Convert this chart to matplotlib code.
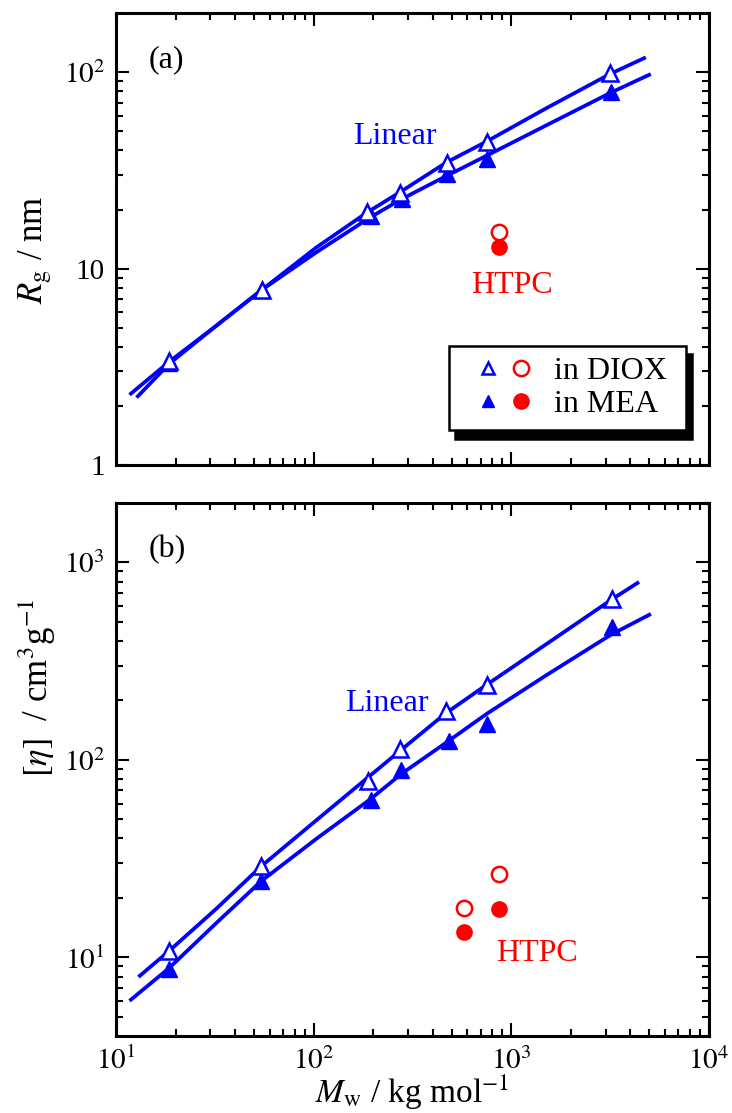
import matplotlib
matplotlib.use('Agg')
import matplotlib.pyplot as plt
from matplotlib.legend_handler import HandlerTuple

plt.rcParams['font.family'] = ['Liberation Serif', 'DejaVu Serif']
plt.rcParams['mathtext.fontset'] = 'stix'

# ---- datos panel (a): Rg ----
m_rg = [18.6, 54.7, 186, 275, 471, 750, 3160]
rg_diox = [3.38, 7.8, 19.4, 24.4, 34.7, 44.2, 99.0]
m_rg_mea = [18.6, 54.7, 196, 279, 475, 750, 3210]
rg_mea = [3.30, 7.8, 18.5, 22.5, 30.5, 36.3, 79.5]

m_htpc_rg = [871]
rg_htpc_diox = [15.3]
rg_htpc_mea = [12.9]

# curvas teoricas
m_fit_rg_diox = [11.9, 18.6, 32, 54.7, 103, 186, 275, 471, 750, 1500, 3160, 4700]
fit_rg_diox = [2.31, 3.36, 5.1, 7.8, 12.8, 19.3, 24.6, 34.8, 44.4, 65.5, 98.0, 118]
m_fit_rg_mea = [12.9, 18.6, 32, 54.7, 103, 196, 279, 453, 750, 1500, 3210, 4980]
fit_rg_mea = [2.24, 3.28, 5.1, 7.8, 12.1, 18.4, 22.6, 29.1, 37.6, 53.6, 79.0, 97.0]

# ---- datos panel (b): [eta] ----
m_eta = [18.5, 54.1, 188, 273, 465, 750, 3230]
eta_diox = [10.8, 28.9, 78.0, 113.5, 176, 240, 653]
m_eta_mea = [18.6, 54.1, 196, 278, 483, 750, 3240]
eta_mea = [8.73, 24.5, 62.8, 89.1, 125, 152, 471]

m_htpc_eta = [576, 865]
eta_htpc_diox = [17.8, 26.4]
eta_htpc_mea = [13.4, 17.6]

m_fit_eta_diox = [13.2, 18.6, 32.1, 54.2, 103, 184, 273, 465, 750, 1500, 3230, 4350]
fit_eta_diox = [8.07, 10.8, 17.6, 28.9, 49.4, 80.0, 111, 172, 240, 385, 650, 787]
m_fit_eta_mea = [11.9, 18.6, 32.1, 54.2, 103, 195, 278, 483, 750, 1500, 3200, 4990]
fit_eta_mea = [6.11, 8.84, 14.9, 24.3, 39.8, 63.6, 85.0, 125, 171, 268, 431, 543]

blue = '#0000ff'
red = '#ff0000'

fig = plt.figure(figsize=(7.32, 11.13), dpi=100)
ax1 = fig.add_axes([0.1585, 0.5822, 0.810, 0.406])
ax2 = fig.add_axes([0.1585, 0.0692, 0.810, 0.4789])

for ax in (ax1, ax2):
    ax.set_xscale('log')
    ax.set_yscale('log')
    ax.set_xlim(10, 1e4)
    ax.tick_params(which='both', direction='in', top=True, right=True,
                   width=1.5, labelsize=21, pad=8)
    ax.tick_params(which='major', length=9.5)
    ax.tick_params(which='minor', length=5)
    for s in ax.spines.values():
        s.set_linewidth(2.2)

# panel (a)
ax1.plot(m_fit_rg_diox, fit_rg_diox, color=blue, lw=2.7, solid_joinstyle='round')
ax1.plot(m_fit_rg_mea, fit_rg_mea, color=blue, lw=2.7, solid_joinstyle='round')
ax1.plot(m_rg_mea, rg_mea, '^', color=blue, ms=11, mec=blue)
ax1.plot(m_rg, rg_diox, '^', color=blue, ms=11, mfc='white', mec=blue, mew=1.8)
ax1.plot(m_htpc_rg, rg_htpc_mea, 'o', color=red, ms=11)
ax1.plot(m_htpc_rg, rg_htpc_diox, 'o', color=red, ms=11, mfc='white', mew=1.8)
ax1.set_ylim(1, 200)
ax1.set_yticks([1, 10, 100], labels=['1', '10', r'$10^{2}$'])
ax1.set_xticks([10, 100, 1000, 10000])
ax1.tick_params(axis='x', labelbottom=False)
ax1.set_ylabel(r'$R_{\rm g}$ / nm', fontsize=25)
ax1.yaxis.set_label_coords(-0.105, 0.476)
ax1.text(17.9, 116, '(a)', fontsize=23, ha='center', va='center')
ax1.text(258, 47, 'Linear', fontsize=23, color=blue, ha='center', va='center')
ax1.text(1007, 8.2, 'HTPC', fontsize=23, color=red, ha='center', va='center')

# leyenda
h_to, = ax1.plot([], [], '^', color=blue, ms=9, mfc='white', mew=1.8)
h_co, = ax1.plot([], [], 'o', color=red, ms=11, mfc='white', mew=1.8)
h_tf, = ax1.plot([], [], '^', color=blue, ms=9)
h_cf, = ax1.plot([], [], 'o', color=red, ms=11)
leg = ax1.legend([(h_to, h_co), (h_tf, h_cf)], ['in DIOX ', 'in MEA '],
                 handler_map={tuple: HandlerTuple(ndivide=None, pad=-0.71)},
                 loc='lower right', bbox_to_anchor=(0.961, 0.077),
                 borderaxespad=0, fontsize=23, handlelength=2.77,
                 handletextpad=0.16, borderpad=0.35, labelspacing=0.1,
                 fancybox=False, edgecolor='black',
                 shadow={'ox': 4.5, 'oy': -6, 'facecolor': 'black',
                         'edgecolor': 'black', 'alpha': 1})
leg.get_frame().set_linewidth(1.8)

# panel (b)
ax2.plot(m_fit_eta_diox, fit_eta_diox, color=blue, lw=2.7, solid_joinstyle='round')
ax2.plot(m_fit_eta_mea, fit_eta_mea, color=blue, lw=2.7, solid_joinstyle='round')
ax2.plot(m_eta_mea, eta_mea, '^', color=blue, ms=11, mec=blue)
ax2.plot(m_eta, eta_diox, '^', color=blue, ms=11, mfc='white', mec=blue, mew=1.8)
ax2.plot(m_htpc_eta, eta_htpc_mea, 'o', color=red, ms=11)
ax2.plot(m_htpc_eta, eta_htpc_diox, 'o', color=red, ms=11, mfc='white', mew=1.8)
ax2.set_ylim(4, 2000)
ax2.set_yticks([10, 100, 1000], labels=[r'$10^{1}$', r'$10^{2}$', r'$10^{3}$'])
ax2.set_xticks([10, 100, 1000, 10000],
               labels=[r'$10^{1}$', r'$10^{2}$', r'$10^{3}$', r'$10^{4}$'])
ax2.set_ylabel(r'$[\eta]$  / cm$^{3}$g$^{-1}$', fontsize=25)
ax2.yaxis.set_label_coords(-0.098, 0.653)
ax2.set_xlabel(r'$M_{\rm w}$ / kg mol$^{-1}$', fontsize=24, labelpad=-2)
ax2.text(18.1, 1160, '(b)', fontsize=23, ha='center', va='center')
ax2.text(236, 193, 'Linear', fontsize=23, color=blue, ha='center', va='center')
ax2.text(1343, 10.5, 'HTPC', fontsize=23, color=red, ha='center', va='center')

fig.savefig('out.png', dpi=100)
